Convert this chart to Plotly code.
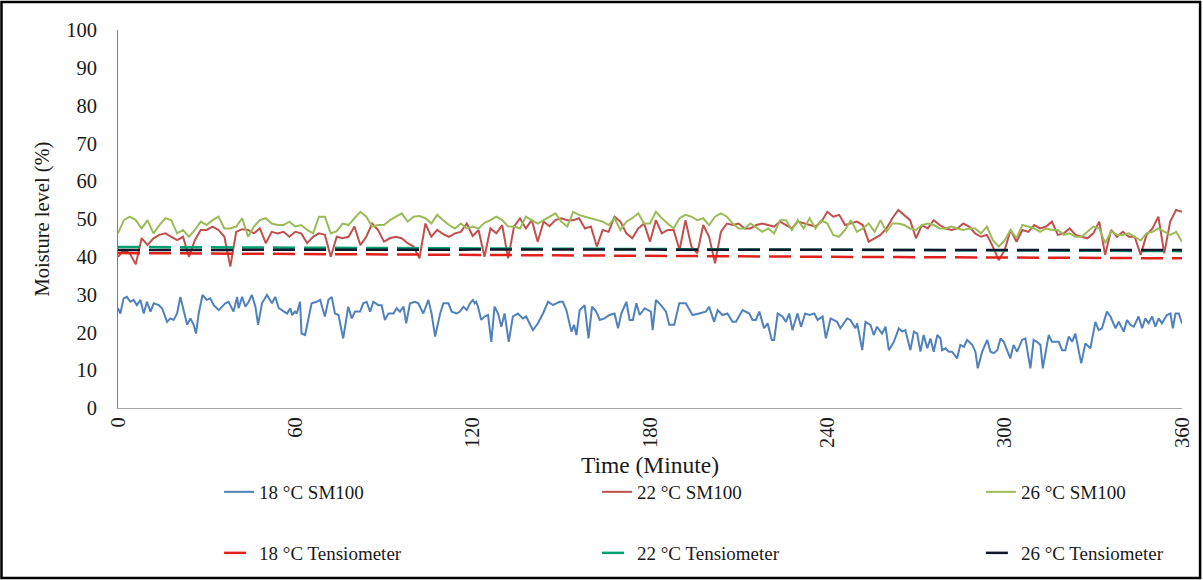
import plotly.graph_objects as go

# ---------------- data ----------------
# 18 °C SM100 (blue) : readings (minute, moisture %)
blue_time = [
    0.0, 0.8, 1.9, 3.0, 4.2, 5.3, 6.4, 7.6, 8.7, 9.8, 11.0, 12.1, 13.8, 14.9, 16.6, 17.7, 18.8, 20.0, 21.1, 22.2,
    23.4, 24.5, 25.6, 26.4, 27.3, 28.6, 30.1, 31.2, 32.4, 34.1, 35.2, 36.3, 37.4, 39.1, 40.3, 40.8, 42.0, 43.1, 44.2, 45.3,
    46.5, 47.4, 48.7, 50.4, 52.1, 53.2, 54.4, 56.1, 57.2, 58.3, 58.9, 59.9,
    60.5, 61.6, 62.1, 63.3, 64.4, 65.5, 67.2, 68.4, 68.9, 70.0, 71.2, 72.3, 73.4, 74.6, 76.2, 77.9, 79.1, 80.2, 81.9, 83.0,
    84.1, 85.3, 86.4, 88.1, 89.2, 90.3, 91.5, 93.2, 94.3, 95.4, 96.6, 97.5, 98.8, 100.5, 101.6, 103.3, 105.0, 106.1, 107.3, 109.0,
    110.1, 111.8, 112.9, 114.6, 115.7, 116.9, 118.0, 119.1, 120.1,
    120.7, 121.2, 121.8, 122.9, 124.0, 125.2, 126.3, 127.4, 128.6, 129.7, 130.8, 132.2, 133.6, 135.3, 137.0, 138.1, 140.4, 142.1,
    143.8, 145.5, 147.2, 148.3, 149.4, 150.5, 151.7, 153.4, 154.3, 155.1, 156.2, 157.9, 159.2, 160.4, 161.8, 163.0, 164.6, 166.3,
    168.0, 169.2, 170.3, 172.0, 173.1, 174.2, 175.4, 176.5, 178.2, 180.3,
    180.9, 182.0, 183.7, 185.4, 186.5, 188.2, 189.9, 192.1, 194.4, 196.6, 198.9, 200.0, 201.7, 202.9, 204.5, 206.2, 207.9, 209.1,
    211.3, 213.6, 214.7, 215.8, 217.0, 218.6, 219.8, 221.2, 222.0, 223.2, 224.8, 226.0, 227.1, 228.2, 229.9, 231.1, 232.5, 233.9,
    235.6, 236.7, 238.4, 239.5,
    241.1, 243.3, 244.4, 246.7, 247.8, 249.5, 250.1, 251.8, 252.9, 254.6, 255.7, 256.8, 258.5, 259.7, 260.8, 262.5, 264.2, 265.3,
    266.4, 268.1, 269.3, 270.4, 271.5, 272.6, 273.8, 274.9, 276.0, 277.2, 278.3, 278.8, 280.0, 281.1, 282.2, 283.9, 285.0, 286.2,
    287.3, 289.0, 290.1, 290.9, 292.4, 294.1, 295.2, 296.3, 297.5, 298.6, 299.7,
    301.9, 303.0, 304.2, 305.9, 307.0, 308.7, 309.8, 310.9, 312.1, 312.9, 314.9, 316.0, 318.3, 319.4, 320.5, 321.7, 322.8, 323.9,
    325.9, 327.3, 329.0, 330.7, 331.8, 332.9, 334.6, 335.8, 337.5, 338.6, 340.3, 341.4, 342.5, 343.7, 345.3, 346.5, 347.6, 348.7,
    349.9, 351.0, 352.1, 353.2, 354.9, 356.1, 356.9, 357.8, 358.9, 360.0,
]
sm100_18 = [
    26.4, 25.0, 29.0, 29.4, 28.1, 28.6, 27.2, 28.6, 25.0, 28.1, 25.5, 27.7, 27.2, 26.4, 22.8, 23.7, 23.3, 25.0, 29.4, 25.5,
    22.0, 23.7, 22.0, 19.7, 25.0, 29.9, 28.6, 29.0, 27.2, 25.9, 26.8, 27.7, 28.1, 25.5, 29.4, 26.4, 29.4, 26.8, 28.1, 29.9,
    26.8, 22.0, 27.7, 29.9, 27.7, 29.4, 26.4, 25.5, 25.0, 26.4, 24.6, 25.5,
    25.0, 28.1, 19.7, 19.3, 23.3, 27.7, 28.1, 28.6, 27.2, 24.2, 28.6, 29.4, 25.0, 24.6, 18.4, 26.8, 23.7, 25.5, 25.5, 27.7,
    28.1, 25.5, 28.1, 27.2, 27.2, 23.3, 25.0, 25.0, 26.4, 25.5, 26.8, 22.4, 27.7, 28.1, 27.7, 25.0, 28.6, 25.0, 18.9, 25.0,
    27.7, 27.7, 25.5, 25.0, 25.5, 26.8, 25.9, 27.7, 28.6,
    27.7, 28.1, 26.8, 23.3, 24.2, 24.6, 17.5, 26.8, 25.0, 21.5, 25.0, 17.5, 24.2, 25.0, 23.7, 24.2, 20.6, 22.4,
    25.0, 28.1, 27.2, 27.7, 28.1, 28.1, 25.9, 20.2, 22.0, 19.3, 25.9, 27.2, 18.4, 26.8, 25.5, 23.3, 23.7, 24.6,
    25.0, 21.1, 25.0, 28.1, 23.3, 23.3, 27.7, 24.6, 26.4, 25.5,
    20.6, 28.6, 27.2, 25.5, 22.0, 22.0, 27.7, 27.7, 24.6, 25.0, 25.5, 26.8, 22.8, 25.9, 24.6, 25.0, 22.8, 22.8,
    25.9, 25.0, 23.3, 23.3, 25.5, 21.1, 22.4, 18.0, 18.0, 25.0, 24.2, 22.8, 25.0, 20.6, 25.0, 21.5, 25.0, 24.6,
    25.0, 23.3, 24.2, 18.4,
    23.7, 22.8, 21.1, 23.7, 23.3, 21.1, 22.4, 15.3, 22.8, 22.0, 19.3, 21.5, 19.7, 21.5, 15.3, 17.5, 21.1, 20.2,
    20.6, 15.3, 20.2, 19.7, 14.9, 19.3, 15.8, 18.4, 14.9, 19.3, 18.4, 15.3, 15.8, 14.9, 14.9, 13.1, 16.7, 16.2,
    18.0, 16.7, 14.9, 10.5, 14.9, 18.0, 14.9, 14.5, 15.3, 18.4, 17.5,
    13.1, 16.7, 14.9, 18.0, 18.4, 10.5, 18.0, 17.5, 16.7, 10.5, 19.3, 17.5, 17.5, 15.3, 15.3, 18.9, 17.5, 19.7,
    11.8, 17.1, 15.8, 22.8, 20.6, 21.1, 25.5, 24.2, 21.1, 22.8, 20.2, 23.3, 22.0, 21.5, 24.2, 21.1, 23.7, 22.4,
    24.2, 21.5, 23.7, 22.4, 24.6, 25.0, 21.1, 25.0, 25.0, 22.4,
]

# 22 °C and 26 °C SM100 : readings every 2 minutes
sm_time = list(range(0, 361, 2))
sm100_22 = [
    40.0, 41.8, 40.9, 38.0, 44.9, 43.1, 44.9, 45.8, 46.2, 45.3, 44.4, 45.3, 40.0, 44.4, 47.1, 47.1, 48.0, 47.1, 45.3, 37.4,
    46.6, 47.3, 47.1, 46.2, 47.5, 43.6, 46.6, 46.2, 46.6, 45.3,
    46.6, 46.2, 43.6, 45.3, 46.2, 45.8, 40.0, 45.3, 44.9, 45.3, 48.0, 43.1, 45.3, 48.8, 47.1, 44.0, 44.9, 45.3, 44.9, 43.6,
    42.7, 39.6, 48.8, 45.3, 47.1, 46.0, 45.3, 46.2, 46.6, 48.8,
    45.5, 47.1, 40.0, 47.5, 46.2, 48.4, 39.6, 48.0, 50.2, 47.5, 49.7, 44.0, 49.3, 48.1, 49.7, 50.2, 49.7, 49.7, 50.2, 47.5,
    48.0, 42.7, 47.1, 46.6, 50.6, 49.3, 46.2, 44.9, 47.5, 48.8,
    44.0, 49.7, 46.2, 47.1, 47.1, 41.8, 49.7, 42.7, 40.9, 48.4, 45.3, 38.3, 46.6, 48.8, 48.4, 48.8, 47.5, 47.5, 48.4, 48.8,
    48.4, 48.0, 49.3, 48.4, 47.5, 49.3, 48.8, 48.4, 48.0, 49.3,
    51.9, 50.6, 51.1, 48.4, 48.8, 49.3, 48.4, 44.0, 44.9, 45.8, 47.5, 50.2, 52.4, 51.1, 49.7, 44.9, 48.4, 47.5, 49.7, 48.4,
    47.5, 47.1, 47.5, 48.8, 48.0, 46.2, 45.3, 45.8, 42.7, 39.1, 41.8,
    47.1, 44.0, 47.1, 46.6, 48.4, 47.5, 48.0, 49.3, 45.8, 46.2, 47.5, 45.8, 45.3, 44.9, 46.2, 49.3, 40.5, 47.1, 45.3, 46.6,
    45.3, 45.3, 40.5, 45.8, 47.5, 50.6, 40.9, 49.3, 52.4, 51.9,
]
sm100_26 = [
    46.2, 49.7, 50.6, 49.7, 47.5, 49.7, 46.2, 48.4, 50.2, 49.7, 46.2, 47.1, 45.3, 47.1, 49.3, 48.4, 49.7, 50.6, 47.5, 47.5,
    48.0, 50.2, 45.3, 48.0, 49.7, 50.2, 48.8, 48.4, 48.4, 49.3,
    48.0, 48.4, 47.1, 46.2, 50.6, 50.6, 46.2, 46.8, 48.8, 48.4, 50.2, 51.9, 50.6, 48.0, 48.4, 48.4, 49.7, 50.6, 51.5, 49.3,
    50.6, 50.8, 50.2, 48.8, 51.1, 49.7, 48.4, 47.5, 48.8, 47.5,
    48.0, 47.5, 49.0, 49.7, 50.6, 49.7, 48.0, 48.0, 47.5, 50.6, 49.7, 48.8, 49.7, 50.6, 51.5, 49.3, 48.0, 51.9, 51.1, 50.6,
    50.2, 49.7, 49.3, 48.4, 50.2, 47.1, 49.3, 50.2, 51.5, 48.8,
    48.8, 51.9, 50.2, 48.8, 47.5, 50.2, 51.1, 50.6, 49.7, 50.2, 48.4, 50.6, 51.5, 50.6, 48.8, 47.5, 47.5, 48.8, 47.7, 46.6,
    47.5, 46.2, 49.7, 49.7, 47.1, 49.7, 47.5, 50.2, 47.5, 49.7,
    48.8, 45.8, 45.3, 47.1, 49.7, 46.6, 47.5, 48.8, 46.6, 49.7, 46.6, 48.8, 48.8, 48.4, 47.5, 47.1, 48.4, 48.8, 48.4, 47.5,
    47.5, 48.0, 47.5, 47.1, 47.5, 47.5, 46.2, 48.0, 44.4, 42.7, 44.4,
    47.1, 44.9, 48.4, 48.0, 47.5, 46.6, 47.5, 47.1, 47.1, 45.8, 46.2, 45.3, 45.3, 46.6, 48.0, 47.5, 43.6, 46.8, 45.8, 45.8,
    46.2, 45.3, 44.3, 46.2, 46.6, 47.5, 46.6, 45.8, 46.6, 44.0,
]

# Tensiometer readings (hourly)
tens_time = [0, 60, 120, 180, 240, 300, 360]
tens_18 = [41.0, 40.7, 40.5, 40.2, 40.0, 39.8, 39.6]
tens_22 = [42.6, 42.4, 42.2, 42.0, 41.8, 41.6, 41.5]
tens_26 = [41.8, 41.9, 41.9, 41.9, 41.8, 41.8, 41.8]

x_ticks = [0, 60, 120, 180, 240, 300, 360]
y_ticks = list(range(0, 101, 10))

# ---------------- figure ----------------
FONT = "Liberation Serif, Times New Roman, serif"
TXT = "#1a1a1a"
DASH = "22px,9px"
fig = go.Figure()

series = [
    (blue_time, sm100_18, "18 °C SM100", dict(color="#4f81bd", width=2), "legend"),
    (sm_time, sm100_22, "22 °C SM100", dict(color="#c0504d", width=2), "legend2"),
    (sm_time, sm100_26, "26 °C SM100", dict(color="#9bbb59", width=2), "legend3"),
    (tens_time, tens_18, "18 °C Tensiometer", dict(color="#e0201b", width=2.5, dash=DASH), "legend4"),
    (tens_time, tens_22, "22 °C Tensiometer", dict(color="#00a070", width=2.5, dash=DASH), "legend5"),
    (tens_time, tens_26, "26 °C Tensiometer", dict(color="#10172a", width=2.5, dash=DASH), "legend6"),
]
for xs, ys, name, line, leg in series:
    fig.add_trace(go.Scatter(x=xs, y=ys, mode="lines", name=name, line=line, legend=leg))

def leg(x, y):
    return dict(x=x, y=y, orientation="h", xanchor="left", yanchor="middle",
                font=dict(family=FONT, size=19, color=TXT),
                bgcolor="rgba(0,0,0,0)", itemwidth=30)

col_x = [0.0950, 0.4502, 0.8110]
row_y = [-0.2222, -0.3836]

fig.update_layout(
    width=1203, height=580,
    margin=dict(l=118, r=21, t=30, b=172, autoexpand=False),
    paper_bgcolor="white", plot_bgcolor="white",
    font=dict(family=FONT, size=17, color=TXT),
    showlegend=True,
    legend=leg(col_x[0], row_y[0]),
    legend2=leg(col_x[1], row_y[0]),
    legend3=leg(col_x[2], row_y[0]),
    legend4=leg(col_x[0], row_y[1]),
    legend5=leg(col_x[1], row_y[1]),
    legend6=leg(col_x[2], row_y[1]),
    xaxis=dict(range=[0, 360], tickmode="array", tickvals=x_ticks,
               ticktext=[str(v) for v in x_ticks], tickangle=-90,
               showgrid=False, zeroline=False, showline=True,
               linecolor="#a6a6a6", linewidth=1, ticks="",
               tickfont=dict(family=FONT, size=20.5, color=TXT),
               title=dict(text="Time (Minute)", standoff=9,
                          font=dict(family=FONT, size=23.5, color=TXT))),
    yaxis=dict(range=[0, 100], tickmode="array", tickvals=y_ticks,
               showgrid=False, zeroline=False, showline=True,
               linecolor="#7f7f7f", linewidth=1, ticks="", ticklabelstandoff=16,
               tickfont=dict(family=FONT, size=20.5, color=TXT),
               title=dict(text="Moisture level (%)", standoff=10,
                          font=dict(family=FONT, size=20.5, color=TXT))),
)

# outer frame around the whole picture
fig.add_shape(type="rect", xref="paper", yref="paper",
              x0=-0.1095, x1=1.017, y0=-0.4497, y1=1.074,
              line=dict(color="black", width=2.5), fillcolor="rgba(0,0,0,0)",
              layer="above")

fig.write_html("out.html", config={"displayModeBar": False},
               post_script="document.body.style.margin='0px';document.body.style.overflow='hidden';")
